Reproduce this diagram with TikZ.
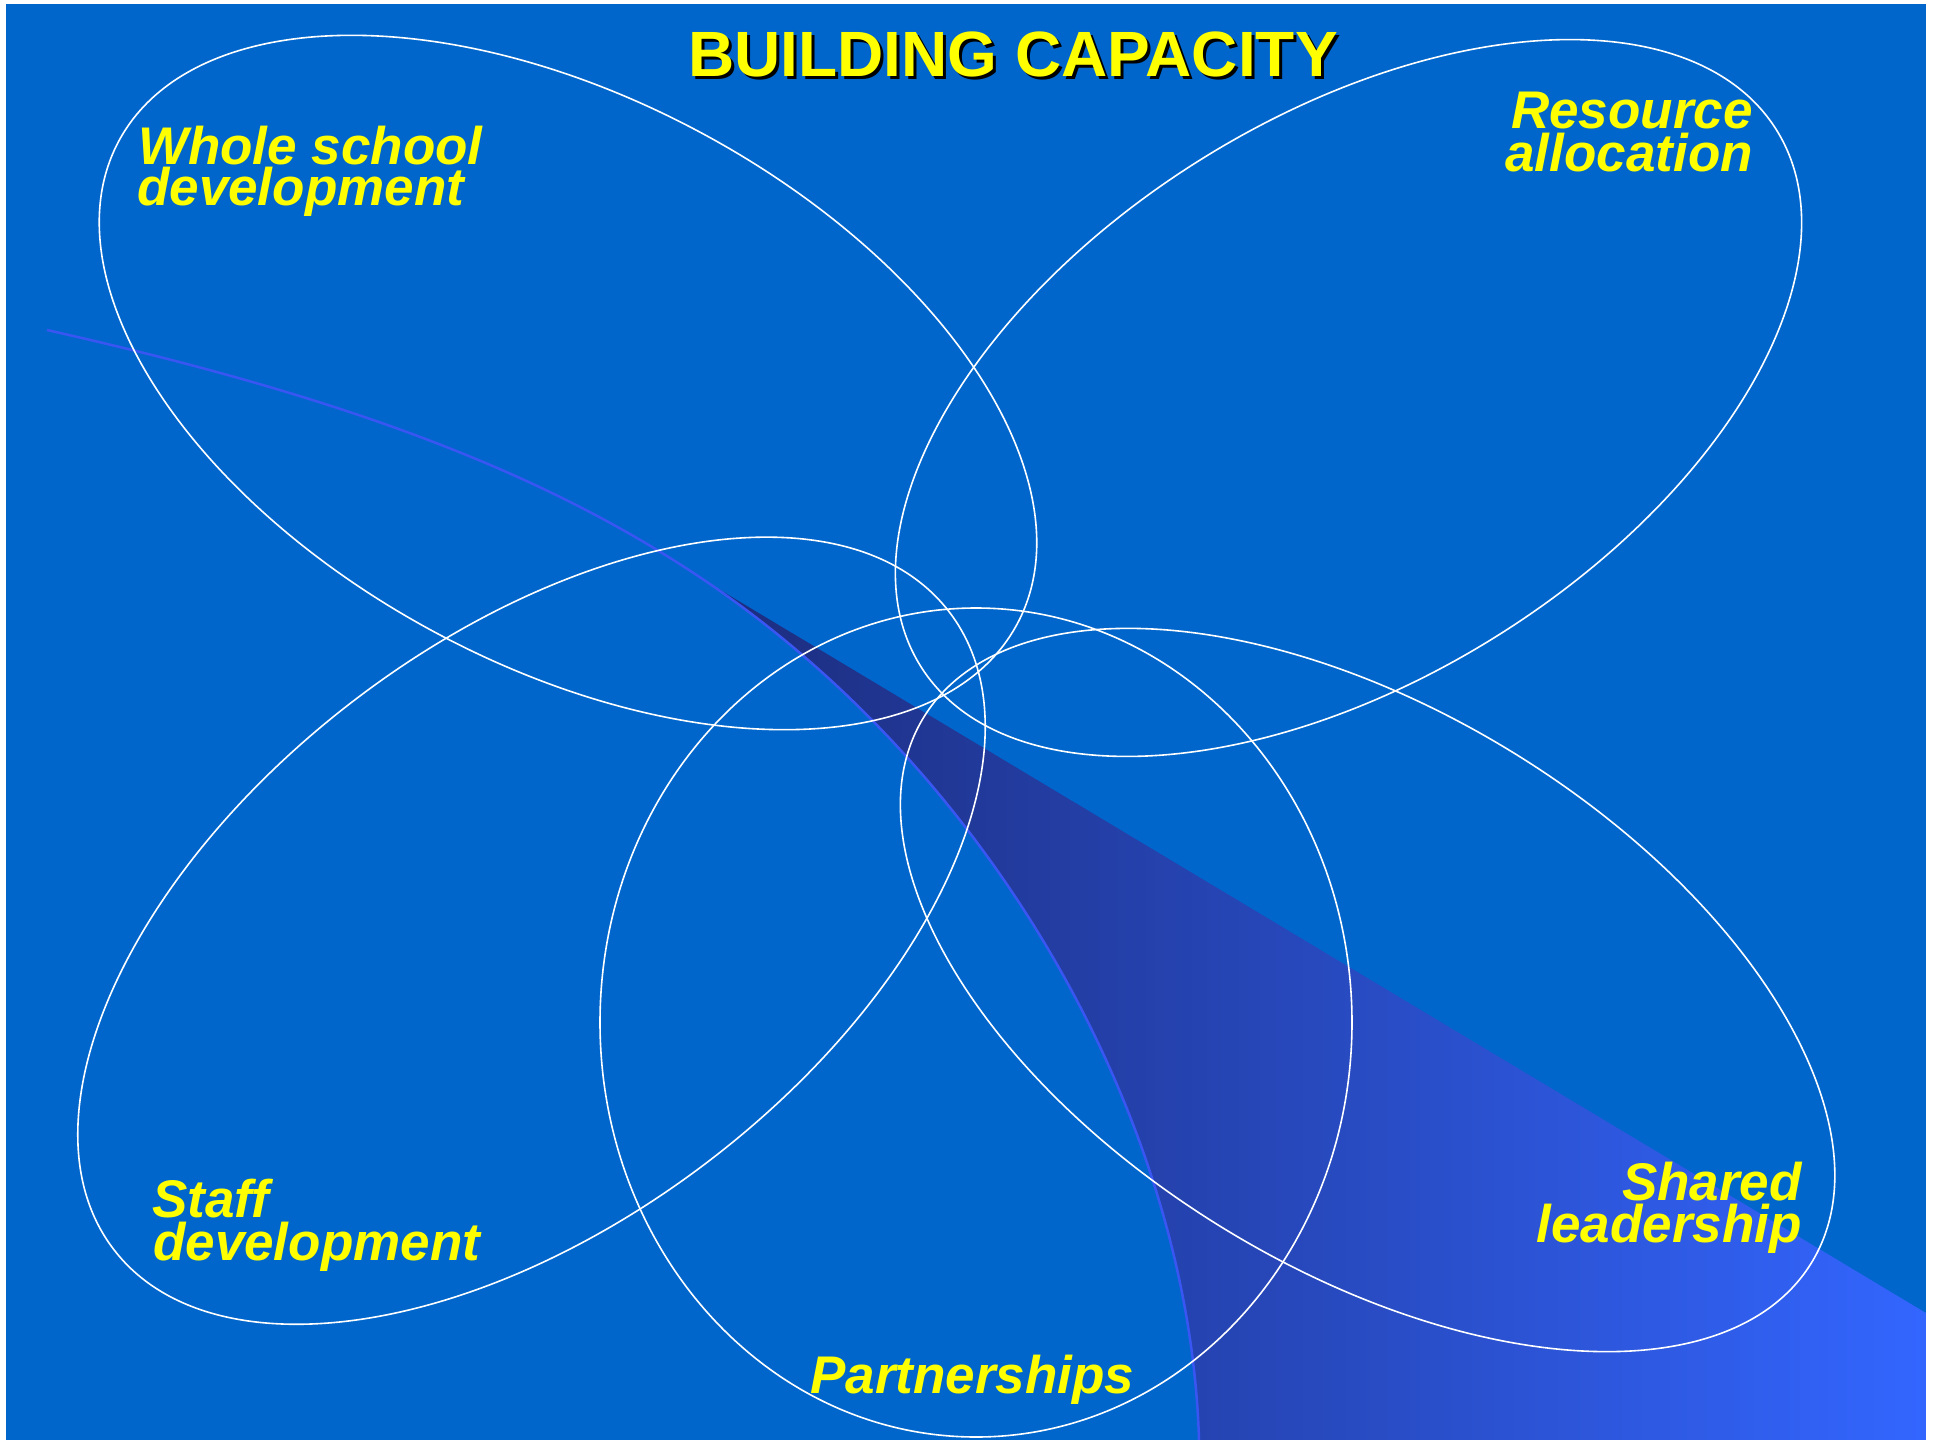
\documentclass[tikz,border=0pt]{standalone}
\usepackage{fontspec}
\setmainfont{Liberation Sans}
\definecolor{bgblue}{HTML}{0066CC}
\definecolor{lyellow}{HTML}{FFFF00}
\definecolor{wedgedark}{HTML}{1C2C7C}
\definecolor{wedgelight}{HTML}{3366FF}
\definecolor{arcblue}{HTML}{3A56F2}
\begin{document}
\begin{tikzpicture}[x=1pt,y=-1pt,
  ell/.style={draw=white, line width=1.6pt},
  lbl/.style={inner sep=0pt, text=lyellow, font=\fontsize{53}{53}\selectfont\bfseries\itshape},
  ttl/.style={inner sep=0pt, anchor=base, font=\fontsize{64}{64}\selectfont\bfseries}]
\useasboundingbox (0,0) rectangle (1938,1440);
\fill[bgblue] (6,4) rectangle (1926,1440);
\coordinate (arcstart) at (47,330);
\coordinate (tip) at (707,582);
\coordinate (arcend) at (1199,1440);
\def\arcpath{(arcstart) .. controls (340,396) and (542,470) .. (tip) .. controls (992.6,776.1) and (1189.4,1119.3) .. (arcend)}
% shaded wedge
\begin{scope}
  \clip \arcpath -- (1926,1440) -- (1926,0) -- (47,0) -- cycle;
  \clip (500,457.9) -- (1926,1313) -- (1926,1440) -- (500,1440) -- cycle;
  \shade[left color=wedgedark, right color=wedgelight]
    (700,450) rectangle (1926,1440);
\end{scope}
\draw[arcblue, line width=2.5pt] \arcpath;
% ellipses
\draw[ell, rotate around={-28.3:(568,382.5)}] (568,382.5) ellipse [x radius=510, y radius=283];
\draw[ell, rotate around={32.1:(1348.5,398)}] (1348.5,398) ellipse [x radius=505, y radius=280.5];
\draw[ell, rotate around={37.3:(531.5,930.7)}] (531.5,930.7) ellipse [x radius=525.5, y radius=290.7];
\draw[ell] (976,1022.5) ellipse [x radius=376, y radius=414.5];
\draw[ell, rotate around={-31.6:(1367.6,990)}] (1367.6,990) ellipse [x radius=521, y radius=278.5];
% title
\node[ttl, text=black] (titleshadow) at (1016,79) {BUILDING CAPACITY};
\node[ttl, text=lyellow] (title) at (1013,76) {BUILDING CAPACITY};
% labels
\node[lbl, anchor=base west] (whole1) at (138,164) {Whole school};
\node[lbl, anchor=base west] (whole2) at (137,205) {development};
\node[lbl, anchor=base east] (res1) at (1753,128) {Resource};
\node[lbl, anchor=base east] (res2) at (1753,171) {allocation};
\node[lbl, anchor=base west] (staff1) at (152,1217) {Staff};
\node[lbl, anchor=base west] (staff2) at (153,1260) {development};
\node[lbl, anchor=base east] (shared1) at (1802,1200) {Shared};
\node[lbl, anchor=base east] (shared2) at (1802,1242) {leadership};
\node[lbl, anchor=base west] (part) at (810,1393) {Partnerships};
\end{tikzpicture}
\end{document}
